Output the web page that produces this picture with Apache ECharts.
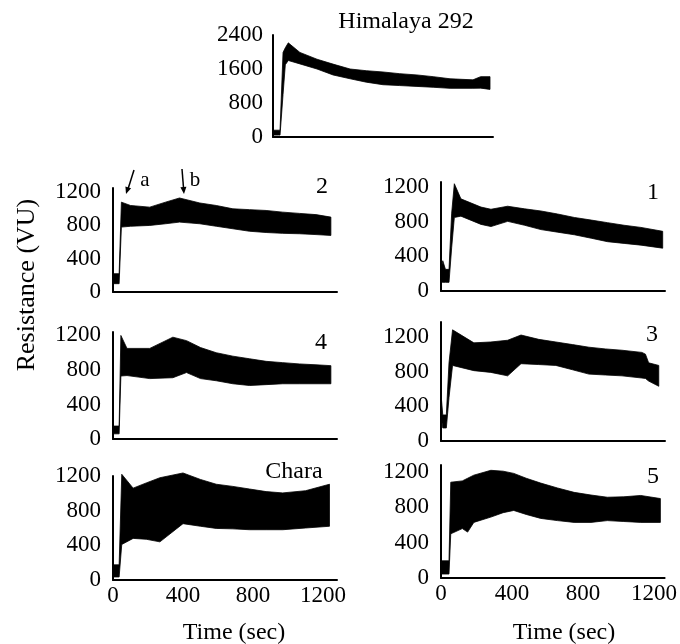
<!DOCTYPE html>
<html><head><meta charset="utf-8">
<script src="https://cdn.jsdelivr.net/npm/echarts@6/dist/echarts.min.js"></script>
<style>html,body{margin:0;padding:0;background:#fff}#c{width:680px;height:644px}</style>
</head><body><div id="c"></div>
<script>
// ---- data (time in seconds, resistance in VU: lower/upper envelope of the noisy trace) ----
var himTime = [0, 30, 40, 57, 70, 87, 153, 250, 341, 438, 530, 625, 720, 818, 910, 1006, 1136, 1180, 1233];
var himHigh = [160, 160, 160, 1990, 2100, 2215, 1990, 1830, 1715, 1600, 1560, 1530, 1490, 1460, 1420, 1370, 1345, 1420, 1420];
var himLow  = [45, 45, 45, 1000, 1700, 1800, 1720, 1600, 1460, 1370, 1290, 1230, 1210, 1190, 1170, 1145, 1145, 1150, 1120];

var p2Time = [0, 35, 48, 100, 210, 300, 380, 496, 590, 685, 780, 875, 970, 1065, 1160, 1245];
var p2High = [220, 220, 1080, 1040, 1020, 1080, 1130, 1070, 1040, 1000, 990, 980, 960, 945, 930, 900];
var p2Low  = [100, 100, 780, 790, 800, 820, 840, 820, 790, 760, 730, 715, 705, 700, 690, 680];

var p1Time = [0, 10, 25, 45, 60, 75, 112, 225, 281, 375, 470, 562, 656, 750, 845, 937, 1030, 1125, 1247];
var p1High = [250, 350, 250, 250, 900, 1240, 1065, 970, 945, 980, 950, 925, 890, 850, 820, 790, 760, 735, 690];
var p1Low  = [100, 100, 100, 100, 500, 850, 865, 770, 745, 805, 760, 710, 680, 650, 610, 570, 550, 530, 495];

var p4Time = [0, 35, 45, 80, 210, 342, 420, 500, 590, 685, 780, 875, 970, 1065, 1160, 1245];
var p4High = [150, 150, 1200, 1050, 1050, 1180, 1140, 1060, 1000, 960, 930, 900, 885, 870, 860, 850];
var p4Low  = [60, 60, 730, 735, 700, 710, 770, 700, 675, 640, 620, 630, 640, 640, 640, 640];

var p3Time = [0, 10, 30, 45, 65, 185, 280, 375, 450, 550, 646, 740, 832, 925, 1018, 1130, 1150, 1168, 1225];
var p3High = [540, 300, 300, 900, 1280, 1130, 1140, 1160, 1220, 1170, 1140, 1110, 1080, 1060, 1045, 1020, 1000, 900, 870];
var p3Low  = [300, 150, 150, 500, 870, 810, 790, 750, 890, 880, 870, 820, 770, 760, 750, 725, 720, 690, 630];

var charaTime = [0, 35, 50, 115, 190, 268, 400, 500, 590, 685, 780, 875, 970, 1100, 1237];
var charaHigh = [175, 175, 1220, 1060, 1120, 1180, 1235, 1160, 1105, 1080, 1050, 1020, 1005, 1030, 1105];
var charaLow  = [35, 35, 410, 480, 470, 440, 650, 620, 595, 590, 580, 580, 580, 600, 620];

var p5Time = [0, 45, 55, 120, 150, 185, 281, 350, 410, 480, 562, 656, 750, 845, 937, 1030, 1125, 1236];
var p5High = [195, 195, 1085, 1100, 1130, 1165, 1220, 1210, 1185, 1130, 1075, 1020, 970, 940, 915, 920, 935, 900];
var p5Low  = [45, 45, 500, 560, 520, 630, 690, 740, 765, 720, 675, 650, 630, 630, 650, 640, 630, 630];

var xTickLabels = [0, 400, 800, 1200];
var panelLabels = ['Himalaya 292', '2', '1', '4', '3', 'Chara', '5'];

// ---- layout ----
var FONT = '"Liberation Serif", "Times New Roman", serif';
var panels = [
  {time: himTime, high: himHigh, low: himLow, grid: {left: 273, top: 35, width: 220, height: 102}, xMax: 1250, yMax: 2400, yInt: 800, xLabels: false, lm: 10},
  {time: p2Time, high: p2High, low: p2Low, grid: {left: 113, top: 188, width: 224, height: 104}, xMax: 1280, yMax: 1250, yInt: 400, xLabels: false, lm: 12},
  {time: p1Time, high: p1High, low: p1Low, grid: {left: 441, top: 182, width: 224, height: 109}, xMax: 1260, yMax: 1260, yInt: 400, xLabels: false, lm: 12},
  {time: p4Time, high: p4High, low: p4Low, grid: {left: 113, top: 332, width: 224, height: 107}, xMax: 1280, yMax: 1240, yInt: 400, xLabels: false, lm: 12},
  {time: p3Time, high: p3High, low: p3Low, grid: {left: 441, top: 322, width: 224, height: 119}, xMax: 1260, yMax: 1370, yInt: 400, xLabels: false, lm: 12},
  {time: charaTime, high: charaHigh, low: charaLow, grid: {left: 113, top: 476, width: 224, height: 104}, xMax: 1280, yMax: 1200, yInt: 400, xLabels: true, lm: 12},
  {time: p5Time, high: p5High, low: p5Low, grid: {left: 441, top: 465, width: 224, height: 113}, xMax: 1260, yMax: 1280, yInt: 400, xLabels: true, lm: 12}
];
var labelPos = [[406, 22], [322, 187], [653, 193], [321, 343], [652, 335], [294, 472], [653, 477]];

// one flat item per panel: [t0, lo0, hi0, t1, lo1, hi1, ...]
function bandItem(t, lo, hi) {
  var row = [];
  for (var i = 0; i < t.length; i++) row.push(t[i], lo[i], hi[i]);
  return row;
}
function bandEncode(n) {
  var xs = [], ys = [];
  for (var i = 0; i < n; i++) { xs.push(3 * i); ys.push(3 * i + 1, 3 * i + 2); }
  return {x: xs, y: ys};
}
function makeRender(n) {
  return function (params, api) {
    var lower = [], upper = [];
    for (var i = 0; i < n; i++) {
      lower.push(api.coord([api.value(3 * i), api.value(3 * i + 1)]));
      upper.push(api.coord([api.value(3 * i), api.value(3 * i + 2)]));
    }
    var pts = lower.concat(upper.reverse());
    return {type: 'polygon', shape: {points: pts},
      style: {fill: '#000', stroke: '#000', lineWidth: 0.8, lineJoin: 'round'}};
  };
}

var grids = [], xAxes = [], yAxes = [], series = [], graphics = [];
panels.forEach(function (p, i) {
  grids.push(Object.assign({containLabel: false}, p.grid));
  xAxes.push({
    type: 'value', gridIndex: i, min: 0, max: p.xMax, interval: 400, z: 10,
    axisLine: {show: true, onZero: false, lineStyle: {color: '#000', width: 2}},
    axisTick: {show: false}, splitLine: {show: false},
    axisLabel: {show: p.xLabels, margin: 4, color: '#000', fontFamily: FONT, fontSize: 23,
      formatter: function (v) { return xTickLabels.indexOf(v) >= 0 ? String(v) : ''; }}
  });
  yAxes.push({
    type: 'value', gridIndex: i, min: 0, max: p.yMax, interval: p.yInt, z: 10,
    axisLine: {show: true, onZero: false, lineStyle: {color: '#000', width: 2}},
    axisTick: {show: false}, splitLine: {show: false},
    axisLabel: {margin: p.lm, color: '#000', fontFamily: FONT, fontSize: 23,
      formatter: function (v) { return v % p.yInt === 0 ? String(v) : ''; }}
  });
  var n = p.time.length;
  series.push({
    type: 'custom', xAxisIndex: i, yAxisIndex: i, renderItem: makeRender(n),
    data: [bandItem(p.time, p.low, p.high)], encode: bandEncode(n),
    dimensions: bandItem(p.time, p.low, p.high).map(function (_, k) { return 'd' + k; }),
    silent: true, animation: false, z: 2
  });
  graphics.push({type: 'text', x: labelPos[i][0], y: labelPos[i][1], z: 20,
    style: {text: panelLabels[i], fill: '#000', font: '24px ' + FONT, align: 'center', verticalAlign: 'middle'}});
});

graphics.push({type: 'text', x: 234, y: 633, z: 20, style: {text: 'Time (sec)', fill: '#000', font: '24px ' + FONT, align: 'center', verticalAlign: 'middle'}});
graphics.push({type: 'text', x: 564, y: 633, z: 20, style: {text: 'Time (sec)', fill: '#000', font: '24px ' + FONT, align: 'center', verticalAlign: 'middle'}});
graphics.push({type: 'text', x: 27, y: 285, rotation: Math.PI / 2, z: 20, style: {text: 'Resistance (VU)', fill: '#000', font: '26px ' + FONT, align: 'center', verticalAlign: 'middle'}});
// annotation arrows a and b
graphics.push({type: 'line', z: 20, shape: {x1: 134, y1: 170, x2: 128, y2: 189}, style: {stroke: '#000', lineWidth: 1.5}});
graphics.push({type: 'polygon', z: 20, shape: {points: [[126, 194], [131.1, 188.3], [125.4, 186.4]]}, style: {fill: '#000'}});
graphics.push({type: 'text', x: 145, y: 180, z: 20, style: {text: 'a', fill: '#000', font: '21px ' + FONT, align: 'center', verticalAlign: 'middle'}});
graphics.push({type: 'line', z: 20, shape: {x1: 182, y1: 169, x2: 183.6, y2: 189}, style: {stroke: '#000', lineWidth: 1.5}});
graphics.push({type: 'polygon', z: 20, shape: {points: [[184, 194], [186.4, 186.8], [180.4, 187.2]]}, style: {fill: '#000'}});
graphics.push({type: 'text', x: 195, y: 180, z: 20, style: {text: 'b', fill: '#000', font: '21px ' + FONT, align: 'center', verticalAlign: 'middle'}});

var chart = echarts.init(document.getElementById('c'), null, {renderer: 'canvas'});
chart.setOption({
  animation: false,
  backgroundColor: '#fff',
  grid: grids, xAxis: xAxes, yAxis: yAxes, series: series, graphic: graphics
});
</script></body></html>
